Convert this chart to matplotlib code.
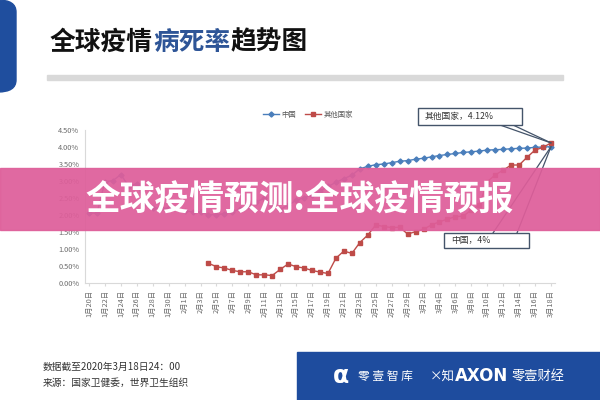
import numpy as np
import matplotlib
matplotlib.use("Agg")
import matplotlib.pyplot as plt
from matplotlib.patches import Rectangle, FancyBboxPatch

plt.rcParams['font.family'] = ['Noto Sans CJK SC', 'DejaVu Sans']

# daily values 1/20 .. 3/18 (%)
china = [2.06, 2.05, 2.98, 3.01, 3.19, 2.84, 2.92, 2.35, 2.21, 2.20,
         2.20, 2.20, 2.11, 2.10, 2.08, 2.01, 2.01, 2.04, 2.09, 2.18,
         2.26, 2.38, 2.49, 2.29, 2.16, 2.29, 2.43, 2.51, 2.58, 2.70,
         2.84, 2.96, 3.07, 3.17, 3.36, 3.43, 3.48, 3.50, 3.54, 3.58,
         3.60, 3.64, 3.67, 3.71, 3.75, 3.78, 3.81, 3.84, 3.86, 3.88,
         3.91, 3.92, 3.93, 3.95, 3.96, 3.97, 3.99, 4.00, 4.01]
others = [np.nan] * 15 + [
         0.58, 0.48, 0.44, 0.37, 0.33, 0.33, 0.24, 0.24, 0.22, 0.40,
         0.56, 0.48, 0.44, 0.37, 0.32, 0.28, 0.73, 0.94, 0.87, 1.19,
         1.41, 1.71, 1.66, 1.63, 1.64, 1.44, 1.51, 1.58, 1.71, 1.80,
         1.88, 1.95, 1.97, 2.15, 2.29, 2.98, 3.18, 3.32, 3.47, 3.47,
         3.70, 3.91, 3.99, 4.12]
tick_labels = ['1月20日', '1月22日', '1月24日', '1月26日', '1月28日', '1月30日',
               '2月1日', '2月3日', '2月5日', '2月7日', '2月9日', '2月11日',
               '2月13日', '2月15日', '2月17日', '2月19日', '2月21日', '2月23日',
               '2月25日', '2月27日', '2月29日', '3月2日', '3月4日', '3月6日',
               '3月8日', '3月10日', '3月12日', '3月14日', '3月16日', '3月18日']
y_ticks = [0, 0.5, 1.0, 1.5, 2.0, 2.5, 3.0, 3.5, 4.0, 4.5]

W, H = 600, 400


def fx(x):
    return x / W


def fy(y):
    return 1 - y / H


fig = plt.figure(figsize=(6, 4), dpi=100)
fig.patch.set_facecolor('white')

# slide decorations
fig.patches.append(FancyBboxPatch((fx(-20), fy(92)), fx(36), 92 / H,
                                  boxstyle="round,pad=0,rounding_size=0.03",
                                  transform=fig.transFigure, color='#1F4E9E', zorder=1))
fig.patches.append(Rectangle((fx(47), fy(80)), fx(516), 5 / H,
                             transform=fig.transFigure, color='#D9D9D9', zorder=1))

# title with a blue middle part, placed piece by piece
title_parts = [('全球疫情', '#111111'), ('病死率', '#2E5597'), ('趋势图', '#111111')]
renderer = fig.canvas.get_renderer()
tx = fx(50)
for part, col in title_parts:
    t = fig.text(tx, fy(42), part, fontsize=18.5, fontweight='bold', color=col,
                 va='center', ha='left')
    tx += t.get_window_extent(renderer=renderer).width / W

# chart
x = np.arange(len(china))
ax = fig.add_axes([fx(85), fy(283), fx(470), (283 - 130) / H])
ax.plot(x, china, color='#4A7EBB', lw=1, marker='D', ms=2.6, label='中国')
ax.plot(x, others, color='#BE4B48', lw=1, marker='s', ms=3.2, label='其他国家')
ax.set_xlim(-0.5, len(china) - 0.5)
ax.set_ylim(0, 4.5)
ax.set_yticks(y_ticks)
ax.set_yticklabels(['{:.2f}%'.format(v) for v in y_ticks])
ax.set_xticks(x[::2])
ax.set_xticklabels(tick_labels, rotation=90)
ax.tick_params(axis='both', labelsize=5.3, colors='#6B6B6B', length=0, pad=4)
ax.tick_params(axis='x', length=2, color='#D9D9D9', pad=3)
for s in ['top', 'right']:
    ax.spines[s].set_visible(False)
for s in ['left', 'bottom']:
    ax.spines[s].set_color('#D9D9D9')
    ax.spines[s].set_linewidth(0.8)

fig.legend(loc='center', bbox_to_anchor=(fx(308), fy(115)), ncol=2, frameon=False,
           fontsize=5.3, handlelength=2.2, columnspacing=1.2, handletextpad=0.3,
           labelcolor='#595959')

# callouts
box_col = '#44546A'
for (x0, y0, x1, y1, txt, starts, yv) in [
        (418, 108, 522, 125, '其他国家，4.12%', [(500, 125), (513, 125)], others[-1]),
        (444, 233, 529, 248, '中国，4%', [(493, 233), (517, 233)], china[-1])]:
    fig.patches.append(Rectangle((fx(x0), fy(y1)), fx(x1 - x0), (y1 - y0) / H,
                                 transform=fig.transFigure, facecolor='white',
                                 edgecolor=box_col, lw=1, zorder=5))
    fig.text(fx(x0 + 7), fy((y0 + y1) / 2), txt, fontsize=6.3, color='#333333',
             va='center', ha='left', zorder=6)
    for sx, sy in starts:
        ax.annotate('', xy=(len(china) - 1, yv), xycoords='data',
                    xytext=(sx, H - sy), textcoords='figure pixels',
                    arrowprops=dict(arrowstyle='-', color=box_col, lw=0.9,
                                    shrinkA=0, shrinkB=0), zorder=4)

# footer
fig.text(fx(43), fy(367), '数据截至2020年3月18日24：00', fontsize=7, color='#333333', va='center')
fig.text(fx(43), fy(383), '来源：国家卫健委，世界卫生组织', fontsize=7, color='#333333', va='center')
fig.patches.append(Rectangle((fx(297), 0), fx(303), 48 / H,
                             transform=fig.transFigure, color='#1E4C9E', zorder=1))
fig.text(fx(333), fy(376), 'α', fontsize=17, fontweight='bold', color='white',
         va='center', ha='left', family='DejaVu Sans')
fig.text(fx(358), fy(376), '零 壹 智 库', fontsize=8.5, color='white', va='center')
fig.text(fx(430), fy(376), '×知', fontsize=9, color='white', va='center')
fig.text(fx(455), fy(376), 'AXON', fontsize=12, fontweight='bold', color='white',
         va='center', family='DejaVu Sans')
fig.text(fx(512), fy(376), '零壹财经', fontsize=9.5, color='white', va='center')

# pink banner overlay
fig.patches.append(Rectangle((0, fy(230)), 1, 62 / H, transform=fig.transFigure,
                             color='#DE5E9A', alpha=0.93, zorder=10))
fig.text(0.5, fy(200), '全球疫情预测:全球疫情预报', fontsize=25, fontweight='bold',
         color='white', ha='center', va='center', zorder=11)

fig.savefig('out.png', dpi=100)
